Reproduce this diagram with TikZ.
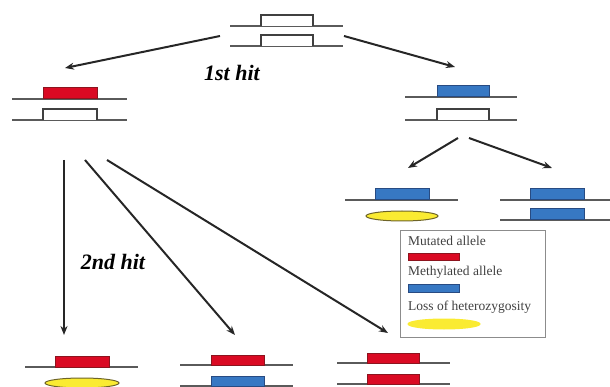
\documentclass[tikz,border=0pt]{standalone}
\usepackage{fontspec}
\setmainfont{Liberation Serif}
\usetikzlibrary{arrows.meta}
\definecolor{mutred}{RGB}{218,10,35}
\definecolor{mutredline}{RGB}{140,20,30}
\definecolor{methblue}{RGB}{55,120,195}
\definecolor{methblueline}{RGB}{40,75,130}
\definecolor{lohyellow}{RGB}{250,235,50}
\definecolor{lohline}{RGB}{110,100,40}
\definecolor{chromgray}{RGB}{90,90,90}
\tikzset{
  chrom/.style={draw=chromgray,line width=1.6pt},
  openbox/.style={draw=black!75,line width=1.3pt,fill=white},
  redbox/.style={draw=mutredline,line width=1pt,fill=mutred},
  bluebox/.style={draw=methblueline,line width=1pt,fill=methblue},
  lohell/.style={draw=lohline,line width=1pt,fill=lohyellow},
  hitarrow/.style={draw=black!85,line width=2pt,-{Stealth[length=9pt,width=7pt]}},
  hitlabel/.style={font=\fontsize{22}{24}\selectfont\bfseries\itshape,inner sep=0pt},
  legtext/.style={font=\fontsize{13.5}{15}\selectfont,text=black!75,anchor=west,inner sep=0pt},
}
\begin{document}
\begin{tikzpicture}[x=1pt,y=-1pt]
\useasboundingbox (0,0) rectangle (610,387);
% top pair
\draw[chrom] (230,26) -- (343,26);
\draw[openbox] (261,26) -- (261,15) -- (313,15) -- (313,26);
\draw[chrom] (230,46) -- (343,46);
\draw[openbox] (261,46) -- (261,35) -- (313,35) -- (313,46);
% left pair (first hit: mutation)
\draw[chrom] (12,99) -- (127,99);
\draw[redbox] (43,88) rectangle (97,99);
\draw[chrom] (12,120) -- (127,120);
\draw[openbox] (43,120) -- (43,109) -- (97,109) -- (97,120);
% right pair (first hit: methylation)
\draw[chrom] (405,97) -- (517,97);
\draw[bluebox] (437,86) rectangle (489,97);
\draw[chrom] (405,120) -- (517,120);
\draw[openbox] (437,120) -- (437,109) -- (489,109) -- (489,120);
% right-left: methylation + LOH
\draw[chrom] (345,200) -- (458,200);
\draw[bluebox] (375,189) rectangle (429,200);
\draw[lohell] (402,216) ellipse [x radius=36, y radius=5];
% right-right: double methylation
\draw[chrom] (500,200) -- (610,200);
\draw[bluebox] (530,189) rectangle (584,200);
\draw[chrom] (500,220) -- (610,220);
\draw[bluebox] (530,209) rectangle (584,220);
% bottom-left: mutation + LOH
\draw[chrom] (25,367) -- (138,367);
\draw[redbox] (55,356) rectangle (109,367);
\draw[lohell] (82,383) ellipse [x radius=37, y radius=5];
% bottom-middle: mutation + methylation
\draw[chrom] (180,365) -- (293,365);
\draw[redbox] (211,355) rectangle (264,365);
\draw[chrom] (180,386) -- (293,386);
\draw[bluebox] (211,376) rectangle (264,386);
% bottom-right: double mutation
\draw[chrom] (337,363) -- (450,363);
\draw[redbox] (367,353) rectangle (419,363);
\draw[chrom] (337,384) -- (450,384);
\draw[redbox] (367,374) rectangle (419,384);
% legend
\node[draw=black!45,line width=0.8pt,minimum width=145pt,minimum height=107pt,inner sep=0pt] (legend) at (472.5,283.5) {};
\node[legtext] (legmut) at (408,241) {Mutated allele};
\draw[redbox,line width=0.5pt] (408,253) rectangle (459,260);
\node[legtext] (legmeth) at (408,272) {Methylated allele};
\draw[bluebox,line width=0.5pt] (408,284) rectangle (459,292);
\node[legtext] (legloh) at (408,307) {Loss of heterozygosity};
\draw[lohell,draw=lohyellow] (444,324) ellipse [x radius=36, y radius=5];
% arrow endpoints
\coordinate (t1) at (220,36);
\coordinate (t2) at (344,36);
\coordinate (l1) at (65,68);
\coordinate (r1) at (455,67);
\coordinate (rs1) at (458,138);
\coordinate (rs2) at (469,138);
\coordinate (re1) at (408,168);
\coordinate (re2) at (552,168);
\coordinate (ls1) at (64,160);
\coordinate (ls2) at (85,160);
\coordinate (ls3) at (107,160);
\coordinate (le1) at (64,335);
\coordinate (le2) at (235,335);
\coordinate (le3) at (388,333);
\draw[hitarrow] (t1) -- (l1);
\draw[hitarrow] (t2) -- (r1);
\draw[hitarrow] (rs1) -- (re1);
\draw[hitarrow] (rs2) -- (re2);
\draw[hitarrow] (ls1) -- (le1);
\draw[hitarrow] (ls2) -- (le2);
\draw[hitarrow] (ls3) -- (le3);
% labels
\node[hitlabel] (hit1) at (232,73) {1st hit};
\node[hitlabel] (hit2) at (113,262) {2nd hit};
\end{tikzpicture}
\end{document}
